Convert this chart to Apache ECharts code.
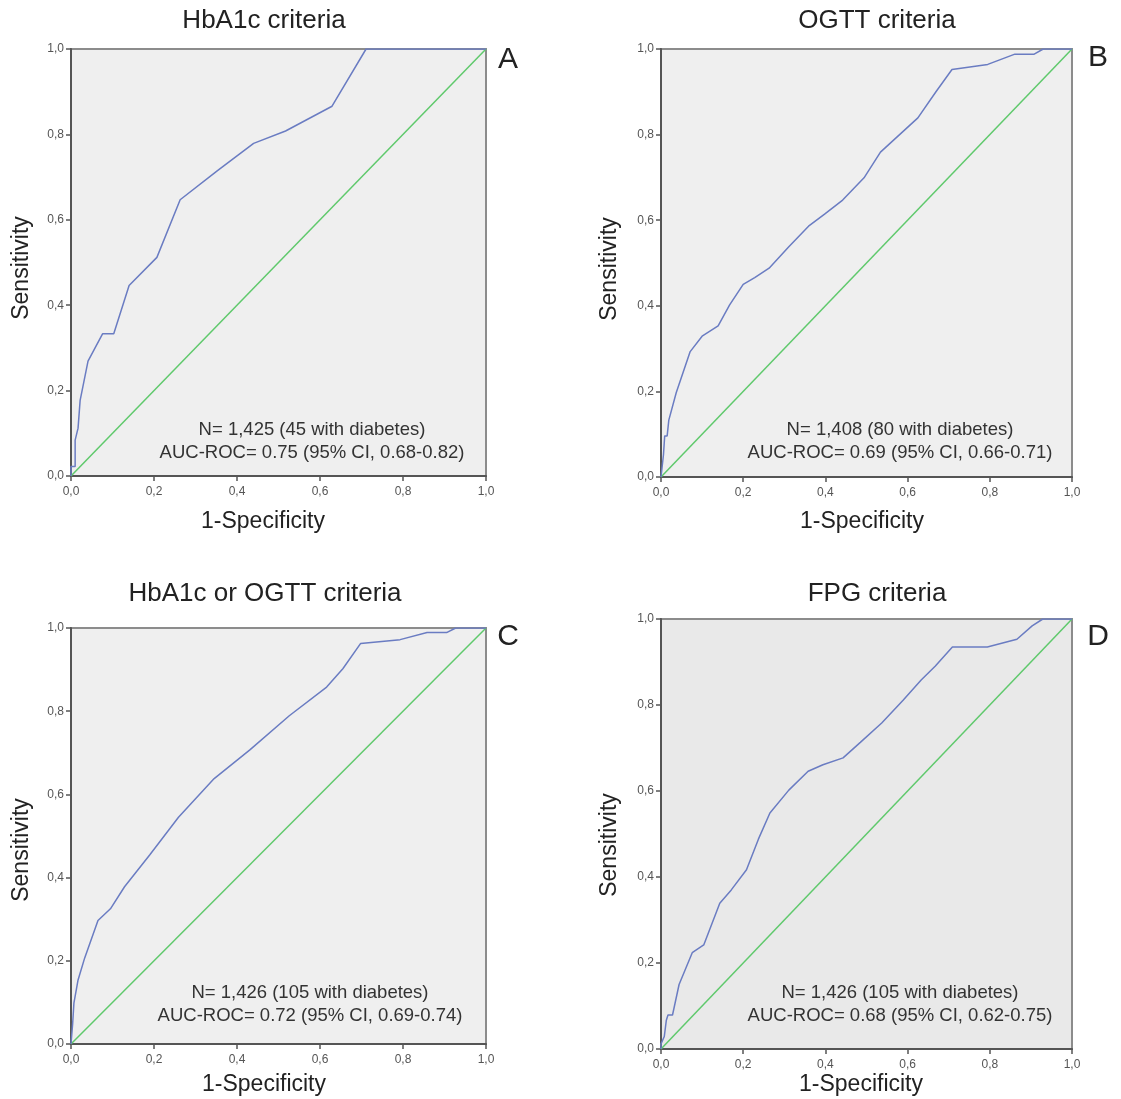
<!DOCTYPE html>
<html>
<head>
<meta charset="utf-8">
<script src="https://cdn.jsdelivr.net/npm/echarts@6/dist/echarts.min.js"></script>
<style>
  html, body { margin: 0; padding: 0; background: #fff; }
  #main { width: 1121px; height: 1099px; }
</style>
</head>
<body>
<div id="main"></div>
<script>
// panel titles, letters and notes
var titles = ['HbA1c criteria', 'OGTT criteria', 'HbA1c or OGTT criteria', 'FPG criteria'];
var letters = ['A', 'B', 'C', 'D'];
var notesN = ['N= 1,425 (45 with diabetes)', 'N= 1,408 (80 with diabetes)', 'N= 1,426 (105 with diabetes)', 'N= 1,426 (105 with diabetes)'];
var notesAuc = ['AUC-ROC= 0.75 (95% CI, 0.68-0.82)', 'AUC-ROC= 0.69 (95% CI, 0.66-0.71)', 'AUC-ROC= 0.72 (95% CI, 0.69-0.74)', 'AUC-ROC= 0.68 (95% CI, 0.62-0.75)'];
var tickValues = [0, 0.2, 0.4, 0.6, 0.8, 1.0];
var diag = [0, 1];

// ROC curves: 1-specificity (x) and sensitivity (y)
var fprA = [0, 0, 0.010, 0.010, 0.017, 0.022, 0.041, 0.076, 0.103, 0.140, 0.207, 0.263, 0.353, 0.440, 0.517, 0.629, 0.711, 1];
var tprA = [0, 0.022, 0.022, 0.084, 0.112, 0.177, 0.269, 0.333, 0.333, 0.446, 0.512, 0.647, 0.715, 0.779, 0.808, 0.866, 1, 1];

var fprB = [0, 0.006, 0.009, 0.015, 0.019, 0.037, 0.071, 0.100, 0.139, 0.167, 0.200, 0.228, 0.263, 0.311, 0.359, 0.398, 0.442, 0.494, 0.534, 0.625, 0.669, 0.708, 0.795, 0.861, 0.908, 0.930, 1];
var tprB = [0, 0.052, 0.096, 0.096, 0.133, 0.197, 0.293, 0.329, 0.353, 0.402, 0.450, 0.466, 0.488, 0.538, 0.586, 0.614, 0.647, 0.699, 0.759, 0.839, 0.900, 0.952, 0.964, 0.988, 0.988, 1, 1];

var fprC = [0, 0.004, 0.007, 0.011, 0.017, 0.033, 0.065, 0.095, 0.129, 0.190, 0.259, 0.345, 0.431, 0.526, 0.616, 0.655, 0.698, 0.793, 0.858, 0.905, 0.927, 1];
var tprC = [0, 0.049, 0.098, 0.102, 0.154, 0.207, 0.297, 0.325, 0.378, 0.455, 0.545, 0.638, 0.707, 0.789, 0.858, 0.902, 0.963, 0.972, 0.989, 0.989, 1, 1];

var fprD = [0, 0, 0.008, 0.013, 0.017, 0.028, 0.044, 0.076, 0.104, 0.143, 0.171, 0.208, 0.237, 0.265, 0.311, 0.358, 0.394, 0.443, 0.485, 0.537, 0.589, 0.633, 0.667, 0.709, 0.794, 0.866, 0.903, 0.929, 1];
var tprD = [0, 0.012, 0.029, 0.067, 0.079, 0.079, 0.150, 0.224, 0.242, 0.339, 0.370, 0.417, 0.488, 0.549, 0.602, 0.646, 0.661, 0.677, 0.713, 0.758, 0.811, 0.858, 0.890, 0.935, 0.935, 0.953, 0.984, 1, 1];

var curves = [[fprA, tprA], [fprB, tprB], [fprC, tprC], [fprD, tprD]];

var myChart = echarts.init(document.getElementById('main'));

// plot boxes in pixels
var boxes = [
  { left: 71, top: 49, width: 415, height: 427, bg: '#efefef' },
  { left: 661, top: 49, width: 411, height: 428, bg: '#efefef' },
  { left: 71, top: 628, width: 415, height: 416, bg: '#efefef' },
  { left: 661, top: 619, width: 411, height: 430, bg: '#e9e9e9' }
];
// text positions
var titlePos = [[264, 21], [877, 21], [265, 594], [877, 594]];
var letterPos = [[508, 60], [1098, 58], [508, 637], [1098, 637]];
var notePos = [[312, 430], [900, 430], [310, 993], [900, 993]];
var xNamePos = [[263, 522], [862, 522], [264, 1085], [861, 1085]];
var yNamePos = [[22, 268], [610, 269], [22, 850], [610, 845]];

function fmt(v) {
  return v.toFixed(1).replace('.', ',');
}

var grids = [], xAxes = [], yAxes = [], series = [], graphics = [];
var font = 'Liberation Sans, Arial, sans-serif';

boxes.forEach(function (b, i) {
  grids.push({
    left: b.left, top: b.top, width: b.width, height: b.height,
    show: true, backgroundColor: b.bg, borderColor: '#8c8c8c', borderWidth: 2
  });
  var axisBase = {
    type: 'value', gridIndex: i, min: 0, max: 1, interval: 0.2,
    axisLine: { show: true, lineStyle: { color: '#555', width: 2 } },
    axisTick: { show: true, inside: false, length: 5, lineStyle: { color: '#555', width: 1.5 } },
    axisLabel: { formatter: fmt, color: '#555', fontSize: 12, fontFamily: font, margin: 7 },
    splitLine: { show: false }
  };
  var xa = echarts.util.merge({}, axisBase, true);
  xa.axisLabel = echarts.util.merge({ margin: 10 }, axisBase.axisLabel);
  xAxes.push(xa);
  yAxes.push(echarts.util.merge({}, axisBase, true));

  var pts = curves[i][0].map(function (x, k) { return [x, curves[i][1][k]]; });
  series.push({
    type: 'line', xAxisIndex: i, yAxisIndex: i,
    data: diag.map(function (v) { return [v, v]; }),
    showSymbol: false, lineStyle: { color: '#5fc96c', width: 1.5 }, z: 3
  });
  series.push({
    type: 'line', xAxisIndex: i, yAxisIndex: i,
    data: pts,
    showSymbol: false, lineStyle: { color: '#6a7cc2', width: 1.5 }, z: 4
  });

  graphics.push({
    type: 'text', x: titlePos[i][0], y: titlePos[i][1],
    style: { text: titles[i], font: '26px ' + font, fill: '#222', align: 'center', verticalAlign: 'middle' }
  });
  graphics.push({
    type: 'text', x: letterPos[i][0], y: letterPos[i][1],
    style: { text: letters[i], font: '30px ' + font, fill: '#222', align: 'center', verticalAlign: 'middle' }
  });
  graphics.push({
    type: 'text', x: notePos[i][0], y: notePos[i][1],
    style: { text: notesN[i], font: '18.5px ' + font, fill: '#333', align: 'center', verticalAlign: 'middle' }
  });
  graphics.push({
    type: 'text', x: notePos[i][0], y: notePos[i][1] + 23,
    style: { text: notesAuc[i], font: '18.5px ' + font, fill: '#333', align: 'center', verticalAlign: 'middle' }
  });
  graphics.push({
    type: 'text', x: xNamePos[i][0], y: xNamePos[i][1],
    style: { text: '1-Specificity', font: '23px ' + font, fill: '#222', align: 'center', verticalAlign: 'middle' }
  });
  graphics.push({
    type: 'text', x: yNamePos[i][0], y: yNamePos[i][1], rotation: Math.PI / 2,
    style: { text: 'Sensitivity', font: '23px ' + font, fill: '#222', align: 'center', verticalAlign: 'middle' }
  });
});

var option = {
  animation: false,
  backgroundColor: '#fff',
  grid: grids,
  xAxis: xAxes,
  yAxis: yAxes,
  series: series,
  graphic: graphics
};
myChart.setOption(option);
window.addEventListener('resize', function () {
  myChart.resize();
});
</script>
</body>
</html>
